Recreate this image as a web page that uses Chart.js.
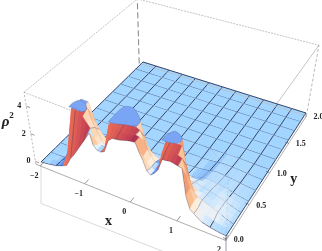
<!DOCTYPE html>
<html>
<head>
<meta charset="utf-8">
<style>
  html, body { margin: 0; padding: 0; background: #fff; }
  #wrap { position: relative; width: 322px; height: 251px; overflow: hidden; }
  canvas { filter: blur(0.35px); }
</style>
<script src="https://cdn.jsdelivr.net/npm/chart.js@4/dist/chart.umd.min.js"></script>
</head>
<body>
<div id="wrap"><canvas id="surface" width="322" height="251"></canvas></div>
<script>
const xTicks = [-2, -1, 0, 1, 2];
const yTicks = [0, 0.5, 1, 1.5, 2];
const yTickLabels = ['0.0', '0.5', '1.0', '1.5', '2.0'];
const zTicks = [0, 2, 4];

// rho^2, one row per y, 49 columns from x=-2 to x=2
const clipLevel = 4.3;
const yRows = [0, 1/12, 2/12, 3/12, 4/12, 5/12, 0.5, 4/6, 5/6, 1, 7/6, 8/6, 9/6, 10/6, 11/6, 2];
const rowY00 = [0,.02,.05,.1,.15,.25,.35,.5,1.1,1.5,2,2.5,3,3.5,2.75,2.5,2.45,2.6,3.5,3.8,3.85,3.9,4,4.1,4.15,4.2,3.6,3.1,2.45,2.25,2.5,2.9,3.75,3.8,3.85,3.8,3.75,3.7,1.7,.9,.7,.47,.3,.22,.15,.1,.05,.02,0];
const rowY01 = [0,0,.02,.05,.1,.3,1,4.3,4.3,4.3,4,3.7,3.4,2.8,2.4,2.45,2.45,4.2,4.2,4.1,4.1,4.05,4.05,4.1,4.25,4.2,2.9,2.5,2.3,2.2,2.4,3.8,4.1,4.1,4.1,4,3.9,2.8,1.9,1.05,.7,.55,.42,.32,.22,.14,.08,.03,0];
const rowY02 = [0,0,0,.02,.05,.2,2,4.3,4.3,4.3,4.3,3.6,3.1,2.7,2.3,2,2.6,4.3,4.3,4.3,4.3,4.3,4.3,4.3,4.2,3.6,3,2.6,2.3,2.3,3,4.3,4.3,4.3,4.3,4.3,3,1.9,1.2,.95,.85,.75,.65,.55,.42,.3,.18,.07,0];
const rowY03 = [0,0,0,0,.02,.1,.6,4.3,4.3,4.3,3.6,3,2.6,2.3,2,1.8,3,4.3,4.3,4.3,4.3,4.3,4.3,4.3,3.4,2.7,2.4,2.2,2.1,2.4,3.6,4.3,4.3,4.3,4.2,1.8,1.1,1,.9,.85,.75,.68,.6,.5,.38,.26,.15,.06,0];
const rowY04 = [0,0,0,0,0,.02,.15,1.5,1.5,1.5,1.2,1,.9,.8,.8,.9,1.5,4.3,4.3,4.3,4.3,4.3,3,2,1.6,1.5,1.4,1.3,1.2,1.2,1.4,2,2.2,1.8,1.2,.9,.9,.88,.8,.75,.68,.62,.55,.45,.35,.24,.15,.06,0];
const rowY05 = [0,0,0,0,0,0,.03,.3,.3,.3,.3,.3,.3,.3,.3,.3,.5,3.5,4,3.6,2.5,1.5,.9,.7,.6,.6,.55,.5,.5,.5,.55,.6,.65,.65,.65,.65,.68,.7,.65,.62,.57,.5,.45,.36,.28,.2,.12,.05,0];
const rowY06 = [0,0,0,0,0,0,0,.05,.05,.06,.06,.07,.07,.08,.08,.08,.1,.3,.4,.35,.25,.2,.15,.15,.15,.15,.16,.17,.18,.19,.2,.22,.23,.25,.28,.35,.45,.5,.5,.47,.42,.38,.35,.28,.22,.15,.1,.04,0];
const rowY07 = [0,0,0,0,0,0,0,0,0,0,0,0,0,0,0,0,0,0,0,0,0,0,0,0,0,0,0,0,0,.02,.03,.05,.06,.08,.11,.15,.2,.28,.3,.28,.25,.22,.2,.16,.12,.08,.05,.02,0];
const rowY08 = [0,0,0,0,0,0,0,0,0,0,0,0,0,0,0,0,0,0,0,0,0,0,0,0,0,0,0,0,0,0,0,0,0,0,.02,.05,.08,.12,.15,.14,.12,.11,.1,.08,.06,.04,.02,.01,0];
const rowY09 = [0,0,0,0,0,0,0,0,0,0,0,0,0,0,0,0,0,0,0,0,0,0,0,0,0,0,0,0,0,0,0,0,0,0,0,0,0,.03,.05,.05,.04,.04,.03,.02,.01,0,0,0,0];
const rowFar = [0,0,0,0,0,0,0,0,0,0,0,0,0,0,0,0,0,0,0,0,0,0,0,0,0,0,0,0,0,0,0,0,0,0,0,0,0,0,0,0,0,0,0,0,0,0,0,0,0];
const zRows = [rowY00, rowY01, rowY02, rowY03, rowY04, rowY05, rowY06, rowY07, rowY08, rowY09, rowFar, rowFar, rowFar, rowFar, rowFar, rowFar];

// outlines of the three clipped tops at z = clipLevel
const capX1 = [-1.49, -1.49, -1.42, -1.26, -1.16, -1.2, -1.34];
const capY1 = [.09, .16, .23, .21, .14, .095, .1];
const capX2 = [-.62, -.62, -.61, -.55, -.41, -.24, -.11, -.11, -.34, -.48];
const capY2 = [.1, .2, .32, .385, .4, .34, .27, .19, .14, .11];
const capX3 = [.5, .515, .6, .72, .84, .81, .67];
const capY3 = [.14, .22, .305, .295, .24, .18, .147];

const columnCount = 49;
const meshEveryCol = 4;
const meshRows = [0, 2, 4, 6, 7, 8, 9, 10, 11, 12, 13, 14, 15];
const firstFarRow = 9;
const wallSpans = [[6, 14], [16, 26], [30, 38]];

// the 3D box as it sits on the page, used to place everything
const floorCorners = { ll: [41, 162], rl: [226, 236], rh: [306, 113], lh: [143, 62] };
const zPerUnit = { ll: [-2.2, -13.8], rl: [0.5, -13.4], rh: [2.4, -13.6], lh: [-0.3, -12.4] };
const boxMin = [-2.1, -0.02, -0.2];
const boxMax = [2.02, 2, 5];

const floorRamp = [
  [0, [162, 213, 255]],
  [0.25, [186, 222, 253]],
  [0.5, [228, 240, 250]],
  [1, [255, 238, 218]],
  [2.5, [252, 200, 155]],
  [5, [242, 155, 112]]
];

function warp(t, w) {
  return t * w / (1 - t + t * w);
}

function blend(c, u, v, k) {
  return (1 - u) * (1 - v) * c.ll[k] + u * (1 - v) * c.rl[k] + u * v * c.rh[k] + (1 - u) * v * c.lh[k];
}

function place(x, y, z, tilt) {
  const u = warp((x + 2) / 4, 0.95);
  const v = warp(y / 2, 1.17);
  return {
    x: blend(floorCorners, u, v, 0) + tilt * z * blend(zPerUnit, u, v, 0),
    y: blend(floorCorners, u, v, 1) + z * blend(zPerUnit, u, v, 1)
  };
}

const project = (x, y, z) => place(x, y, z, 1);
const onSurface = (x, y, z) => place(x, y, z, 0);

function colX(i) {
  return -2 + i / 12;
}

function mix(a, b, t) {
  return [0, 1, 2].map(k => a[k] + (b[k] - a[k]) * t);
}

function css(c) {
  return `rgb(${Math.round(c[0])},${Math.round(c[1])},${Math.round(c[2])})`;
}

function ramp(s) {
  for (let k = 1; k < floorRamp.length; k++) {
    if (s <= floorRamp[k][0]) {
      const [s0, c0] = floorRamp[k - 1];
      const [s1, c1] = floorRamp[k];
      return mix(c0, c1, (s - s0) / (s1 - s0));
    }
  }
  return floorRamp[floorRamp.length - 1][1];
}

function cellColor(i0, i1, j) {
  const x0 = colX(i0), x1 = colX(i1), y0 = yRows[j], y1 = yRows[j + 1];
  const a = zRows[j][i0], b = zRows[j][i1], c = zRows[j + 1][i1], d = zRows[j + 1][i0];
  if (Math.min(a, b, c, d) >= clipLevel) return 'rgb(122,165,245)';
  const sx = ((b + c - a - d) / 2) * 0.08 / ((x1 - x0) / 4);
  const sy = ((c + d - a - b) / 2) * 0.08 / ((y1 - y0) / 2);
  const span = wallSpans.find(s => i0 >= s[0] && i0 < s[1]);
  if (span && j <= 2 && sy > -0.05 && sx > -1.2) {
    const f = (i0 - span[0]) / (span[1] - span[0]);
    return css(mix([240, 112, 86], [165, 34, 82], f * (j === 0 ? 1 : 0.85)));
  }
  if (sx > 0.1 && Math.abs(sy) < 1) {
    return css(mix(floorRamp[0][1], [88, 138, 245], Math.min(1, sx)));
  }
  return css(ramp(Math.hypot(sx, sy)));
}

function lineSet(points, color, width, dash) {
  return {
    data: points,
    showLine: true,
    fill: false,
    borderColor: color,
    borderWidth: width,
    borderDash: dash || [],
    pointRadius: 0,
    tension: 0
  };
}

function buildSurface() {
  const cells = [];
  for (let j = 0; j < yRows.length - 1; j++) {
    const step = j >= firstFarRow ? meshEveryCol : 1;
    for (let i = 0; i < columnCount - 1; i += step) {
      const i1 = i + step;
      const xm = (colX(i) + colX(i1)) / 2, ym = (yRows[j] + yRows[j + 1]) / 2;
      cells.push({ i, i1, j, depth: xm * 0.09 - ym * 0.345 });
    }
  }
  cells.sort((a, b) => a.depth - b.depth);

  const edge = (sets, zA, zB, pA, pB) => {
    if (Math.min(zA, zB) >= clipLevel) return;
    const raised = Math.max(zA, zB) > 0.3;
    sets.push(lineSet([pA, pB], raised ? 'rgba(60,40,70,0.55)' : 'rgba(42,50,84,0.95)', raised ? 0.6 : 0.95));
  };
  const sets = [];
  cells.forEach(c => {
    const z00 = zRows[c.j][c.i], z10 = zRows[c.j][c.i1], z11 = zRows[c.j + 1][c.i1], z01 = zRows[c.j + 1][c.i];
    const p00 = onSurface(colX(c.i), yRows[c.j], z00);
    const p10 = onSurface(colX(c.i1), yRows[c.j], z10);
    const p11 = onSurface(colX(c.i1), yRows[c.j + 1], z11);
    const p01 = onSurface(colX(c.i), yRows[c.j + 1], z01);
    const color = cellColor(c.i, c.i1, c.j);
    sets.push({
      data: [p00, p10, p11, p01, p00],
      showLine: true,
      fill: 'shape',
      backgroundColor: color,
      borderColor: color,
      borderWidth: 0.5,
      pointRadius: 0,
      tension: 0
    });
    if (meshRows.includes(c.j)) edge(sets, z00, z10, p00, p10);
    if (c.j + 1 === yRows.length - 1) edge(sets, z01, z11, p01, p11);
    if (c.i % meshEveryCol === 0) edge(sets, z00, z01, p00, p01);
    if (c.i1 === columnCount - 1) edge(sets, z10, z11, p10, p11);
  });
  return sets;
}

function buildCaps() {
  return [[capX1, capY1], [capX2, capY2], [capX3, capY3]].map(([xs, ys]) => {
    const pts = xs.map((x, i) => onSurface(x, ys[i], clipLevel));
    pts.push(pts[0]);
    return {
      data: pts,
      showLine: true,
      fill: 'shape',
      backgroundColor: 'rgb(122,165,245)',
      borderColor: 'rgba(90,100,150,0.6)',
      borderWidth: 0.6,
      pointRadius: 0,
      tension: 0.3
    };
  });
}

// the surface has no floor under its front edge, so what lies below the y=0 row stays white
function buildFrontMask() {
  const pts = rowY00.map((z, i) => onSurface(colX(i), 0, z));
  pts.push(onSurface(2, 0, -3), onSurface(-2, 0, -3), pts[0]);
  return {
    data: pts,
    showLine: true,
    fill: 'shape',
    backgroundColor: '#fff',
    borderColor: 'rgba(70,60,90,0.5)',
    borderWidth: 0.4,
    pointRadius: 0,
    tension: 0
  };
}

function boxCorner(ix, iy, iz) {
  return project(ix ? boxMax[0] : boxMin[0], iy ? boxMax[1] : boxMin[1], iz ? boxMax[2] : boxMin[2]);
}

function buildBoxBack() {
  const gray = 'rgba(130,130,130,0.8)';
  return [
    lineSet([boxCorner(0, 0, 1), boxCorner(0, 1, 1)], gray, 0.6, [2, 1]),
    lineSet([boxCorner(0, 1, 1), boxCorner(1, 1, 1)], gray, 0.6, [2, 1]),
    lineSet([boxCorner(0, 0, 1), boxCorner(1, 0, 1)], gray, 0.6, [2, 1]),
    lineSet([boxCorner(1, 0, 1), boxCorner(1, 1, 1)], gray, 0.6),
    lineSet([boxCorner(0, 1, 0), boxCorner(0, 1, 1)], 'rgba(120,120,120,0.9)', 1, [6, 3]),
    lineSet([boxCorner(1, 1, 0), boxCorner(1, 1, 1)], gray, 0.7, [3, 2]),
    lineSet([boxCorner(0, 0, 0), boxCorner(0, 0, 1)], gray, 0.7, [2, 2])
  ];
}

function buildBoxFront() {
  const gray = 'rgba(110,110,110,0.8)';
  const sets = [
    lineSet([boxCorner(0, 0, 0), boxCorner(1, 0, 0)], gray, 0.7),
    lineSet([boxCorner(1, 0, 0), boxCorner(1, 1, 0)], gray, 0.7),
    lineSet([boxCorner(0, 1, 0), boxCorner(1, 1, 0)], 'rgba(190,190,190,0.9)', 0.8),
    lineSet([project(1.5, 0.15, 5), boxCorner(1, 0, 1)], 'rgba(150,170,190,0.35)', 0.6),
    lineSet([boxCorner(1, 0, 1), boxCorner(1, 0, 0)], 'rgba(130,150,170,0.45)', 0.6, [2, 2])
  ];
  xTicks.forEach(t => sets.push(lineSet([project(t, boxMin[1], boxMin[2]), project(t, 0.05, boxMin[2])], '#555', 0.6)));
  yTicks.forEach(t => sets.push(lineSet([project(boxMax[0], t, boxMin[2]), project(boxMax[0] - 0.08, t, boxMin[2])], '#555', 0.6)));
  zTicks.forEach(t => sets.push(lineSet([project(boxMin[0], boxMin[1], t), project(boxMin[0] + 0.08, boxMin[1], t)], '#555', 0.6)));
  return sets;
}

// Chart.js paints the first dataset last, so front things go first
const datasets = buildBoxFront().concat(buildFrontMask(), buildCaps(), buildSurface().reverse(), buildBoxBack());

const tickFont = 'bold 8px "Liberation Serif"';
const axisLabels = {
  id: 'axisLabels',
  afterDatasetsDraw(chart) {
    const ctx = chart.ctx;
    const sx = chart.scales.x, sy = chart.scales.y;
    const put = (text, p, dx, dy, font) => {
      ctx.font = font;
      ctx.fillText(text, sx.getPixelForValue(p.x) + dx, sy.getPixelForValue(p.y) + dy);
    };
    ctx.save();
    ctx.fillStyle = '#222';
    ctx.textAlign = 'center';
    ctx.textBaseline = 'middle';
    xTicks.forEach(t => put(String(t).replace('-', '\u2212'), project(t, boxMin[1], boxMin[2]), -6, 10, tickFont));
    yTicks.forEach((t, i) => put(yTickLabels[i], project(boxMax[0], t, boxMin[2]), 12, 1, tickFont));
    zTicks.forEach(t => put(String(t), project(boxMin[0], boxMin[1], t), -7, 0, tickFont));
    const xMid = project(-0.45, boxMin[1], boxMin[2]);
    put('x', xMid, -1, 28, 'bold 14px "Liberation Serif"');
    const yMid = project(boxMax[0], 1, boxMin[2]);
    put('y', yMid, 24, 7, 'bold 14px "Liberation Serif"');
    const zMid = project(boxMin[0], boxMin[1], 3);
    put('\u03c1', zMid, -23, 2, 'italic bold 15px "Liberation Serif"');
    put('2', zMid, -17, -4, 'bold 9px "Liberation Serif"');
    ctx.restore();
  }
};

new Chart(document.getElementById('surface'), {
  type: 'scatter',
  data: { datasets: datasets },
  plugins: [axisLabels],
  options: {
    responsive: false,
    animation: false,
    events: [],
    layout: { padding: 0 },
    plugins: {
      legend: { display: false },
      tooltip: { enabled: false },
      filler: { propagate: false }
    },
    scales: {
      x: { type: 'linear', display: false, min: 0, max: 322 },
      y: { type: 'linear', display: false, min: 0, max: 251, reverse: true }
    }
  }
});
</script>
</body>
</html>
